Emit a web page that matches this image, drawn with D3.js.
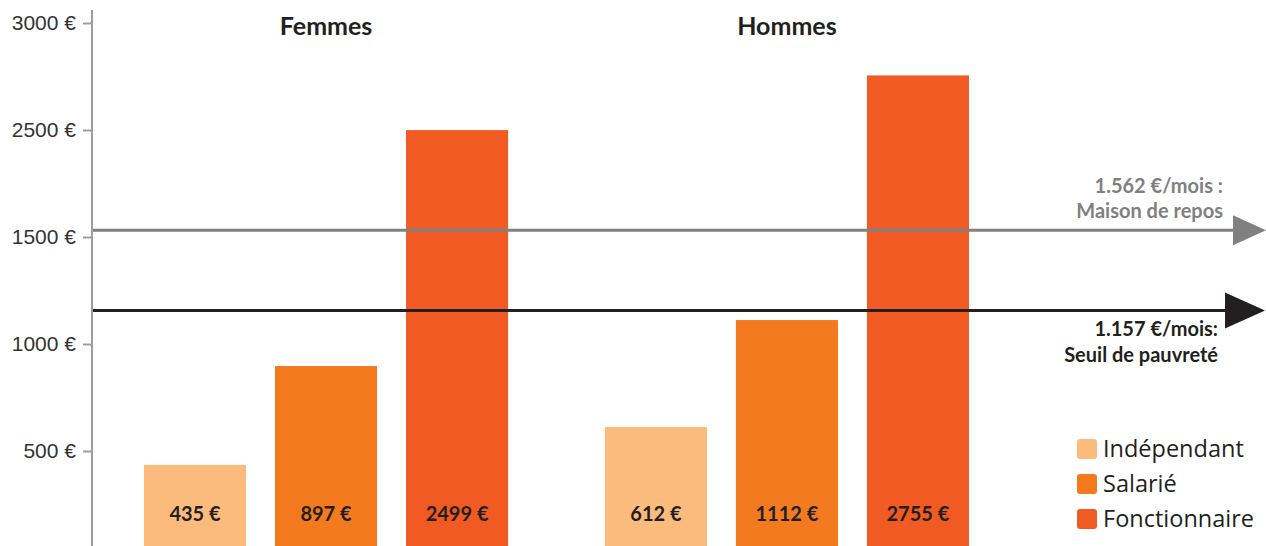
<!DOCTYPE html>
<html>
<head>
<meta charset="utf-8">
<script src="https://cdn.jsdelivr.net/npm/d3@7"></script>
<style>
  body { margin: 0; background: #fff; }
  svg { display: block; }
</style>
</head>
<body>
<div id="chart"></div>
<script>
// data
var groups = ["Femmes", "Hommes"]
var categories = ["Indépendant", "Salarié", "Fonctionnaire"]
var femmes = [435, 897, 2499]
var hommes = [612, 1112, 2755]
var tickValues = [500, 1000, 1500, 2500, 3000]
var refValues = [1562, 1157]
var refLabels = [["1.562 €/mois :", "Maison de repos"], ["1.157 €/mois:", "Seuil de pauvreté"]]
var colors = ["#fbbb7c", "#f47a20", "#f15a22"]

var width = 1266, height = 546

var svg = d3.select("#chart")
  .append("svg")
    .attr("width", width)
    .attr("height", height)

// the original axis is uneven (no 2000 label), so the scale follows the labelled ticks
var y = d3.scaleLinear()
  .domain([0, 500, 1000, 1500, 2500, 3000])
  .range([558, 451, 344, 237, 130, 23])

var x0 = d3.scaleBand()
  .domain(groups)
  .range([144, 969])
  .paddingInner(0.21)

var x1 = d3.scaleBand()
  .domain(categories)
  .range([0, x0.bandwidth()])
  .paddingInner(0.221)

var color = d3.scaleOrdinal().domain(categories).range(colors)

var rows = []
groups.forEach(function(g, gi) {
  var vals = gi == 0 ? femmes : hommes
  categories.forEach(function(c, ci) {
    rows.push({group: g, cat: c, value: vals[ci]})
  })
})

// bars
svg.selectAll("rect.bar")
  .data(rows)
  .enter()
  .append("rect")
    .attr("class", "bar")
    .attr("x", function(d) { return x0(d.group) + x1(d.cat) })
    .attr("y", function(d) { return y(d.value) })
    .attr("width", x1.bandwidth())
    .attr("height", function(d) { return height - y(d.value) })
    .attr("fill", function(d) { return color(d.cat) })

// value labels
svg.selectAll("text.val")
  .data(rows)
  .enter()
  .append("text")
    .attr("x", function(d) { return x0(d.group) + x1(d.cat) + x1.bandwidth() / 2 })
    .attr("y", 521)
    .attr("text-anchor", "middle")
    .style("font-family", "Lato, 'Noto Sans', sans-serif")
    .style("font-weight", "bold")
    .style("font-size", "20px")
    .style("fill", "#231f20")
    .text(function(d) { return d.value + " €" })

// group titles
svg.selectAll("text.grp")
  .data(groups)
  .enter()
  .append("text")
    .attr("x", function(d) { return x0(d) + x0.bandwidth() / 2 })
    .attr("y", 35)
    .attr("text-anchor", "middle")
    .style("font-family", "Lato, 'Noto Sans', sans-serif")
    .style("font-weight", "bold")
    .style("font-size", "25px")
    .style("fill", "#231f20")
    .text(function(d) { return d })

// y axis
var axis = svg.append("g")
  .attr("transform", "translate(92,0)")
  .call(d3.axisLeft(y).tickValues(tickValues).tickSize(9).tickPadding(7)
    .tickFormat(function(d) { return d + " €" }))
axis.select(".domain").remove()
axis.selectAll(".tick line").attr("stroke", "#9d9d9d").attr("stroke-width", 2)
axis.selectAll(".tick text")
  .style("font-family", "'Liberation Sans', Arial, sans-serif")
  .style("font-size", "21px")
  .style("fill", "#333")
svg.append("line")
  .attr("x1", 92).attr("x2", 92)
  .attr("y1", 10).attr("y2", height)
  .attr("stroke", "#9d9d9d").attr("stroke-width", 2)

// reference lines with arrows
var refColors = ["#808080", "#231f20"]
var arrowLen = [33, 40], arrowHalf = [15, 18], arrowEnd = [1266, 1265]
refValues.forEach(function(v, i) {
  var yy = y(v)
  var tip = arrowEnd[i], base = tip - arrowLen[i]
  svg.append("line")
    .attr("x1", 93).attr("x2", base + 2)
    .attr("y1", yy).attr("y2", yy)
    .attr("stroke", refColors[i]).attr("stroke-width", 3)
  svg.append("path")
    .attr("d", "M" + base + "," + (yy - arrowHalf[i]) + "L" + tip + "," + yy + "L" + base + "," + (yy + arrowHalf[i]) + "Z")
    .attr("fill", refColors[i])
  var t = svg.append("text")
    .attr("text-anchor", "end")
    .style("font-family", "Lato, 'Noto Sans', sans-serif")
    .style("font-weight", "bold")
    .style("font-size", "20px")
    .style("fill", refColors[i])
  if (i == 0) {
    t.append("tspan").attr("x", 1223).attr("y", yy - 37).text(refLabels[i][0])
    t.append("tspan").attr("x", 1223).attr("y", yy - 12).text(refLabels[i][1])
  } else {
    t.append("tspan").attr("x", 1218).attr("y", yy + 26).text(refLabels[i][0])
    t.append("tspan").attr("x", 1218).attr("y", yy + 52).text(refLabels[i][1])
  }
})

// legend
var legend = svg.selectAll("g.leg")
  .data(categories)
  .enter()
  .append("g")
    .attr("transform", function(d, i) { return "translate(1077," + (439 + i * 35) + ")" })
legend.append("rect")
  .attr("width", 20).attr("height", 20)
  .attr("rx", 3)
  .attr("fill", function(d) { return color(d) })
legend.append("text")
  .attr("x", 26)
  .attr("y", 18)
  .style("font-family", "'Open Sans', 'Noto Sans', sans-serif")
  .style("font-size", "23.5px")
  .style("fill", "#231f20")
  .text(function(d) { return d })
</script>
</body>
</html>
